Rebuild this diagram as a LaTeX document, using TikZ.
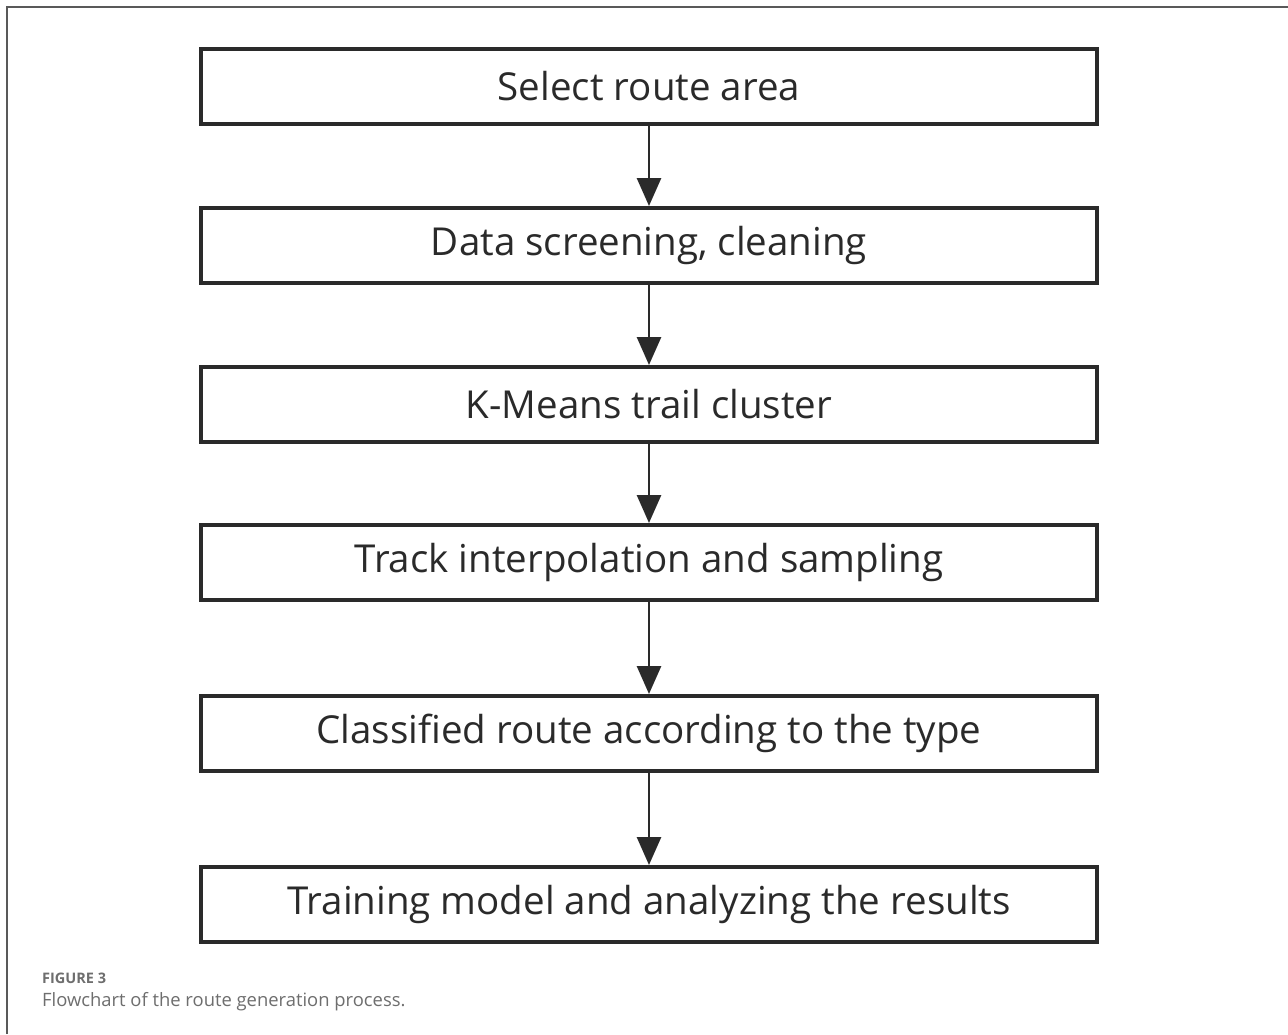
\documentclass[tikz,border=0pt]{standalone}
\usepackage{fontspec}
\setmainfont{Open Sans}
\usetikzlibrary{arrows.meta}
\definecolor{ink}{HTML}{2A2A2A}
\definecolor{capgray}{HTML}{6E6E6E}
\tikzset{
  stepbox/.style={draw=ink, line width=3.5pt, minimum width=896pt, minimum height=75pt, inner sep=0pt, text=ink, font=\fontsize{38.5}{44}\selectfont, anchor=north},
  flow/.style={draw=ink, line width=2.8pt, -{Triangle[width=24pt,length=28pt]}, shorten >=0pt}
}
\begin{document}
\begin{tikzpicture}[x=1pt,y=-1pt]
\useasboundingbox (0,0) rectangle (1288,1034);
\fill[white] (0,0) rectangle (1288,1034);
\draw[draw=black!65, line width=1.3pt] (7,1034) -- (7,7) -- (1288,7);
\node[stepbox] (b1) at (649,47) {Select route area};
\node[stepbox] (b2) at (649,206) {Data screening, cleaning};
\node[stepbox] (b3) at (649,365) {K-Means trail cluster};
\node[stepbox] (b4) at (649,523) {Track interpolation and sampling};
\node[stepbox] (b5) at (649,694) {Classified route according to the type};
\node[stepbox] (b6) at (649,865) {Training model and analyzing the results};
\draw[flow] (b1.south) -- (b2.north);
\draw[flow] (b2.south) -- (b3.north);
\draw[flow] (b3.south) -- (b4.north);
\draw[flow] (b4.south) -- (b5.north);
\draw[flow] (b5.south) -- (b6.north);
\node[anchor=base west, inner sep=0pt, text=capgray, font=\fontsize{14.5}{16}\selectfont\bfseries] (cap1) at (42,983) {FIGURE 3};
\node[anchor=base west, inner sep=0pt, text=capgray, font=\fontsize{18.4}{22}\selectfont] (cap2) at (42,1006) {Flowchart of the route generation process.};
\end{tikzpicture}
\end{document}
